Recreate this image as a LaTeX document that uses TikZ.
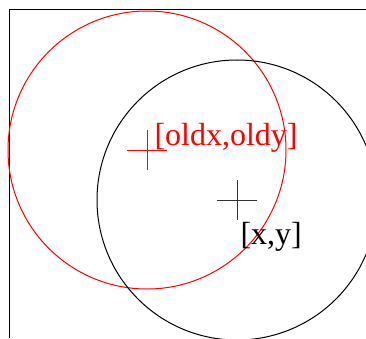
\documentclass[tikz,border=0pt]{standalone}
\usepackage{fontspec}
\setmainfont{Liberation Serif}
\begin{document}
\begin{tikzpicture}[x=1pt,y=1pt,line width=1pt,
   lbl/.style={anchor=base west,inner sep=0pt,font=\fontsize{32}{38}\selectfont}]
   \useasboundingbox (0,0) rectangle (366,338);
   \clip (0,0) rectangle (366,338);
   %frame
   \draw (366,328) -- (9,328) -- (9,0);
   %centres
   \coordinate (old) at (147,188);
   \coordinate (new) at (237,138);
   %circle red
   \draw[red] (old) circle (139);
   %circle black
   \draw (new) circle (140);
   %cross
   \draw[red] ([xshift=-20]old) -- ([xshift=20]old);
   \draw[red] ([yshift=-20]old) -- ([yshift=20]old);
   \draw[black!80] ([xshift=-20]new) -- ([xshift=20]new);
   \draw[black!80] ([yshift=-20]new) -- ([yshift=20]new);
   %description
   \node[lbl,red] (oldlbl) at (154,193) {[oldx,oldy]};
   \node[lbl] (newlbl) at (240,94) {[x,y]};
\end{tikzpicture}
\end{document}
